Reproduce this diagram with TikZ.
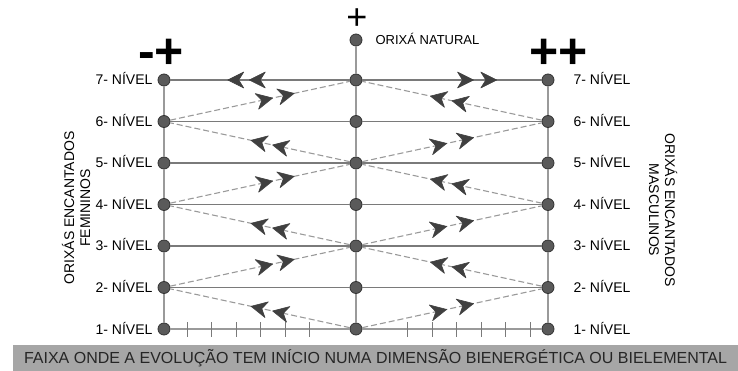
\documentclass[tikz,border=0pt]{standalone}
\usepackage{fontspec}
\setmainfont{Liberation Sans}
\usetikzlibrary{positioning, decorations.markings}

\definecolor{dotgray}{HTML}{5A5A5A}
\definecolor{dotedge}{HTML}{333333}
\definecolor{linegray}{HTML}{7A7A7A}
\definecolor{dashgray}{HTML}{9A9A9A}
\definecolor{tipgray}{HTML}{404040}
\definecolor{bandgray}{HTML}{A6A6A6}

% one filled arrowhead, tip at the mark
\newcommand{\tipmark}{\fill[tipgray, draw=tipgray, line width=0.6pt, line join=round, solid]
    (0pt,0pt) -- (-16pt,8pt) -- (-11pt,0pt) -- (-16pt,-8pt) -- cycle;}

\begin{document}
\begin{tikzpicture}[x=1pt, y=-1pt, node distance=41.5pt,
    dot/.style = {draw=dotedge, fill=dotgray, circle, inner sep=0pt, minimum size=12pt, line width=0.8pt},
    lvl/.style = {inner sep=0pt, text height=10pt, text depth=0pt, font=\fontsize{14}{14}\selectfont},
    side/.style = {inner sep=0pt, align=center, font=\fontsize{14}{16}\selectfont},
    band/.style = {fill=bandgray, minimum width=725pt, minimum height=26pt, inner sep=0pt,
        text height=11.5pt, text depth=0pt, text=black!85, font=\fontsize{16}{16}\selectfont},
    rung/.style = {draw=linegray, line width=1.6pt},
    rail/.style = {draw=dashgray, line width=1.1pt},
    zig/.style = {draw=dashgray, line width=1.1pt, dash pattern=on 6pt off 3pt},
    tick/.style = {draw=linegray, line width=0.8pt},
    arrowpair/.style 2 args = {postaction={decorate}, decoration={markings,
        mark=at position #1 with {\tipmark},
        mark=at position #2 with {\tipmark}}}]

    \useasboundingbox (0,0) rectangle (738,371);

    % columns of levels
    \node[dot] (l7) at (164,80) {};
    \node[dot] (l6) [below of = l7] {};
    \node[dot] (l5) [below of = l6] {};
    \node[dot] (l4) [below of = l5] {};
    \node[dot] (l3) [below of = l4] {};
    \node[dot] (l2) [below of = l3] {};
    \node[dot] (l1) [below of = l2] {};

    \node[dot] (c7) at (356,80) {};
    \node[dot] (c6) [below of = c7] {};
    \node[dot] (c5) [below of = c6] {};
    \node[dot] (c4) [below of = c5] {};
    \node[dot] (c3) [below of = c4] {};
    \node[dot] (c2) [below of = c3] {};
    \node[dot] (c1) [below of = c2] {};

    \node[dot] (r7) at (548,80) {};
    \node[dot] (r6) [below of = r7] {};
    \node[dot] (r5) [below of = r6] {};
    \node[dot] (r4) [below of = r5] {};
    \node[dot] (r3) [below of = r4] {};
    \node[dot] (r2) [below of = r3] {};
    \node[dot] (r1) [below of = r2] {};

    \node[dot] (nat) at (356,40) {};
    \node[lvl, font=\fontsize{13}{13}\selectfont, text height=9.3pt, right=13pt of nat] (natlabel) {ORIXÁ NATURAL};

    \foreach \n in {1,...,7} {
        \node[lvl, left=5pt of l\n] (tl\n) {\n- NÍVEL};
        \node[lvl, right=19pt of r\n] (tr\n) {\n- NÍVEL};
    }

    \node[inner sep=0pt, font=\fontsize{36}{36}\selectfont] (plus) at (357,19) {+};
    \node[inner sep=0pt, font=\fontsize{50}{50}\selectfont\bfseries] (minusplus) at (161,54) {-+};
    \node[inner sep=0pt, font=\fontsize{50}{50}\selectfont\bfseries] (plusplus) at (558.5,54) {++};

    \node[side, rotate=90] (fem) at (76,208) {ORIXÁS ENCANTADOS\\FEMININOS};
    \node[side, rotate=-90] (masc) at (663,210) {ORIXÁS ENCANTADOS\\MASCULINOS};

    \node[band] (faixa) at (375.5,358) {FAIXA ONDE A EVOLUÇÃO TEM INÍCIO NUMA DIMENSÃO BIENERGÉTICA OU BIELEMENTAL};

    % rails and rungs
    \draw[rail] (l1) -- (l2) -- (l3) -- (l4) -- (l5) -- (l6) -- (l7);
    \draw[rail] (c1) -- (c2) -- (c3) -- (c4) -- (c5) -- (c6) -- (c7) -- (nat);
    \draw[rail] (r1) -- (r2) -- (r3) -- (r4) -- (r5) -- (r6) -- (r7);
    \draw[rail] (l1) -- (c1) -- (r1);
    \foreach \n in {2,...,6} \draw[rung] (l\n) -- (c\n) -- (r\n);
    \draw[rung, arrowpair={0.56}{0.68}] (c7) -- (l7);
    \draw[rung, arrowpair={0.62}{0.75}] (c7) -- (r7);

    \foreach \k in {0,1,2,3,4,5,9,10,11,12,13,14}
        \draw[tick] ({187+24.5*\k},322) -- ++(0,15);

    % zigzag, left
    \draw[zig, arrowpair={0.43}{0.55}] (c1) -- (l2);
    \draw[zig, arrowpair={0.57}{0.69}] (l2) -- (c3);
    \draw[zig, arrowpair={0.43}{0.55}] (c3) -- (l4);
    \draw[zig, arrowpair={0.57}{0.69}] (l4) -- (c5);
    \draw[zig, arrowpair={0.43}{0.55}] (c5) -- (l6);
    \draw[zig, arrowpair={0.57}{0.69}] (l6) -- (c7);

    % zigzag, right
    \draw[zig, arrowpair={0.47}{0.62}] (c1) -- (r2);
    \draw[zig, arrowpair={0.50}{0.62}] (r2) -- (c3);
    \draw[zig, arrowpair={0.47}{0.62}] (c3) -- (r4);
    \draw[zig, arrowpair={0.50}{0.62}] (r4) -- (c5);
    \draw[zig, arrowpair={0.47}{0.62}] (c5) -- (r6);
    \draw[zig, arrowpair={0.50}{0.62}] (r6) -- (c7);

\end{tikzpicture}
\end{document}
